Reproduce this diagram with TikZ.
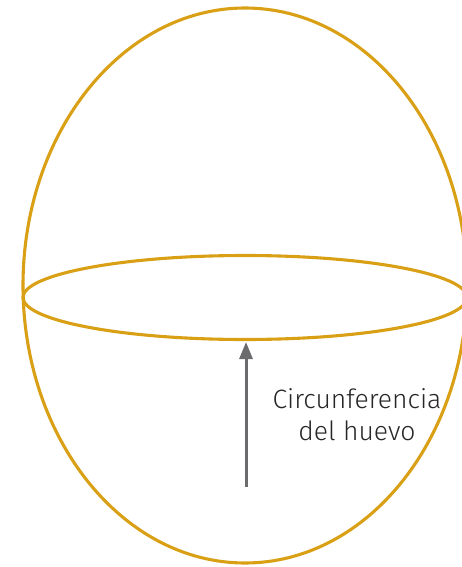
\documentclass[tikz,border=0pt]{standalone}
\usepackage{fontspec}
\setmainfont{Fira Sans Light}
\usetikzlibrary{arrows.meta}
\definecolor{egg}{HTML}{D9A016}
\definecolor{arrowgray}{HTML}{6B6B6E}
\begin{document}
\begin{tikzpicture}[x=1pt,y=-1pt,
  eggline/.style={draw=egg,line width=3.1pt},
  pointer/.style={draw=arrowgray,line width=3pt,-{Triangle[length=17pt,width=13pt]}},
  lbl/.style={font=\fontsize{26.5}{32}\selectfont,align=center,text=black!85}]
\useasboundingbox (0,0) rectangle (462,567);
\begin{scope}
\clip (0,0) rectangle (462,567);
\draw[eggline] (245,285.5) ellipse [x radius=222, y radius=277.5];
\draw[eggline] (245,297.5) ellipse [x radius=222, y radius=42];
\end{scope}
\coordinate (base) at (246,487);
\coordinate (tip) at (246,342);
\draw[pointer] (base) -- (tip);
\node[lbl] (label) at (357,415) {Circunferencia\\del huevo};
\end{tikzpicture}
\end{document}
